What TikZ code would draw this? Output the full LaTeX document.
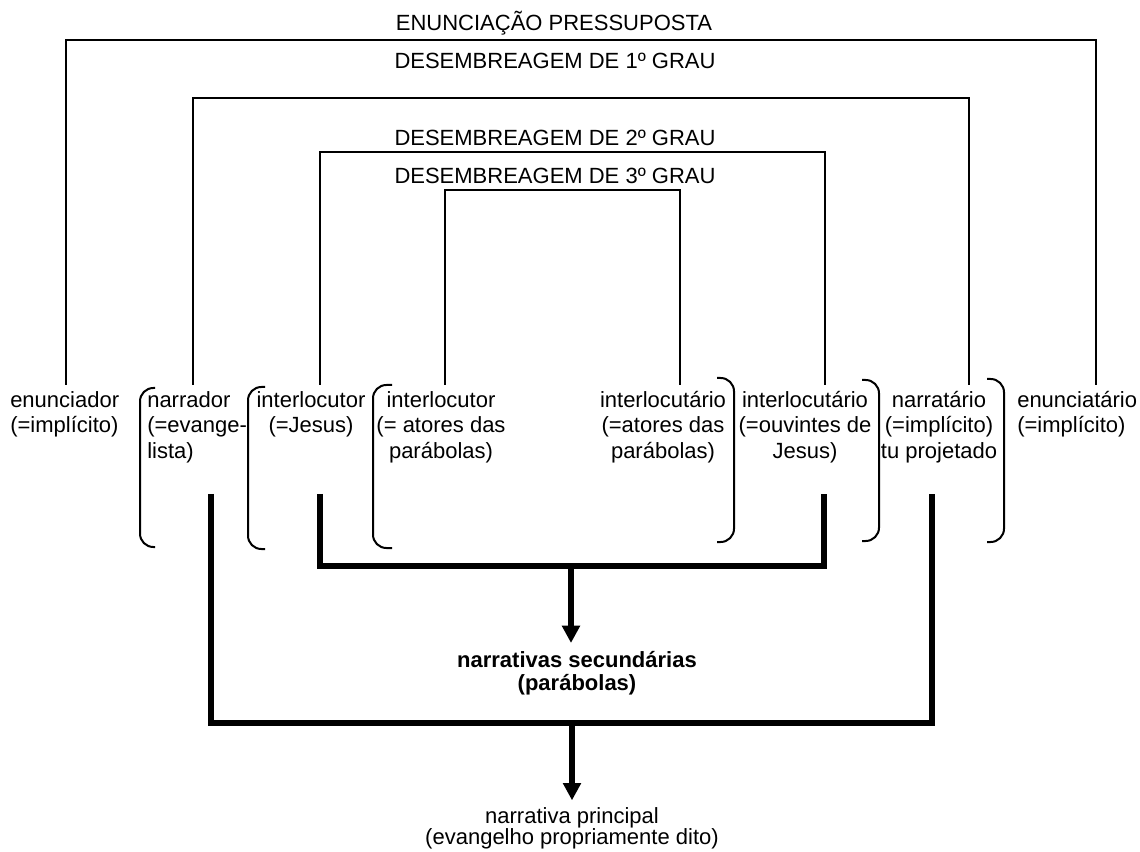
\documentclass[tikz,border=0pt]{standalone}
\usepackage{fontspec}
\setmainfont{Liberation Sans}
\usetikzlibrary{arrows.meta}
\begin{document}
\begin{tikzpicture}[x=0.75pt,y=-0.75pt,
  every node/.style={inner sep=0pt, font=\fontsize{16.5}{19.1}\selectfont},
  title/.style={anchor=base},
  lbl/.style={anchor=north, align=center},
  lblL/.style={anchor=north west, align=left},
  guide/.style={line width=1.5pt},
  brk/.style={line width=1.5pt, rounded corners=10pt},
  bar/.style={line width=4.2pt},
  arr/.style={line width=3.8pt, -{Triangle[length=13pt,width=13pt]}}]

\useasboundingbox (0,0) rectangle (1140,852);

% level titles
\node[title] (t0) at (554,31)  {ENUNCIAÇÃO PRESSUPOSTA};
\node[title] (t1) at (555,69)  {DESEMBREAGEM DE 1º GRAU};
\node[title] (t2) at (555,146) {DESEMBREAGEM DE 2º GRAU};
\node[title] (t3) at (555,184) {DESEMBREAGEM DE 3º GRAU};

% actants
\node[lblL] (en)    at (10,391)   {enunciador\\(=implícito)};
\node[lblL] (nar)   at (147,391)  {narrador\\(=evange-\\lista)};
\node[lbl]  (intJ)  at (311,391)  {interlocutor\\(=Jesus)};
\node[lbl]  (intA)  at (441,391)  {interlocutor\\(= atores das\\parábolas)};
\node[lbl]  (intcA) at (663,391)  {interlocutário\\(=atores das\\parábolas)};
\node[lbl]  (intcO) at (805,391)  {interlocutário\\(=ouvintes de\\Jesus)};
\node[lbl]  (narrt) at (939,391)  {narratário\\(=implícito)\\tu projetado};
\node[lblL] (enct)  at (1017,391) {enunciatário\\(=implícito)};

% resulting narratives
\node[anchor=north, align=center, font=\fontsize{16.5}{17}\selectfont\bfseries]
  (sec) at (577,651) {narrativas secundárias\\(parábolas)};
\node[anchor=north, align=center, font=\fontsize{16.5}{15.75}\selectfont]
  (princ) at (572,807) {narrativa principal\\(evangelho propriamente dito)};

% guide lines of each level
\coordinate (g0L) at (66,385);  \coordinate (g0a) at (66,40);
\coordinate (g0b) at (1096,40); \coordinate (g0R) at (1096,385);
\coordinate (g1L) at (193,385); \coordinate (g1a) at (193,98);
\coordinate (g1b) at (969,98);  \coordinate (g1R) at (969,385);
\coordinate (g2L) at (320,385); \coordinate (g2a) at (320,152);
\coordinate (g2b) at (825,152); \coordinate (g2R) at (825,385);
\coordinate (g3L) at (445,385); \coordinate (g3a) at (445,190);
\coordinate (g3b) at (680,190); \coordinate (g3R) at (680,385);
\draw[guide] (g0L) -- (g0a) -- (g0b) -- (g0R);
\draw[guide] (g1L) -- (g1a) -- (g1b) -- (g1R);
\draw[guide] (g2L) -- (g2a) -- (g2b) -- (g2R);
\draw[guide] (g3L) -- (g3a) -- (g3b) -- (g3R);

% brackets around the actants
\draw[brk] (155,388) -- (140,388) -- (140,547) -- (155,547);
\draw[brk] (265,387) -- (248,387) -- (248,549) -- (265,549);
\draw[brk] (392,385) -- (373,385) -- (373,548) -- (392,548);
\draw[brk] (717,378) -- (734,378) -- (734,542) -- (717,542);
\draw[brk] (862,380) -- (879,380) -- (879,541) -- (862,541);
\draw[brk] (987,379) -- (1004,379) -- (1004,542) -- (987,542);

% inner fork: secondary narratives
\coordinate (i1) at (320,494); \coordinate (i1b) at (320,566);
\coordinate (i2) at (824,494); \coordinate (i2b) at (824,566);
\coordinate (secJ) at (571,566);
\draw[bar] (i1) -- (i1b) -- (i2b) -- (i2);
\draw[arr, shorten >=6pt] (secJ) -- (secJ |- sec.north);

% outer fork: main narrative
\coordinate (o1) at (211,494); \coordinate (o1b) at (211,723);
\coordinate (o2) at (932,494); \coordinate (o2b) at (932,723);
\coordinate (princJ) at (572,723);
\draw[bar] (o1) -- (o1b) -- (o2b) -- (o2);
\draw[arr, shorten >=5pt] (princJ) -- (princJ |- princ.north);
\end{tikzpicture}
\end{document}
